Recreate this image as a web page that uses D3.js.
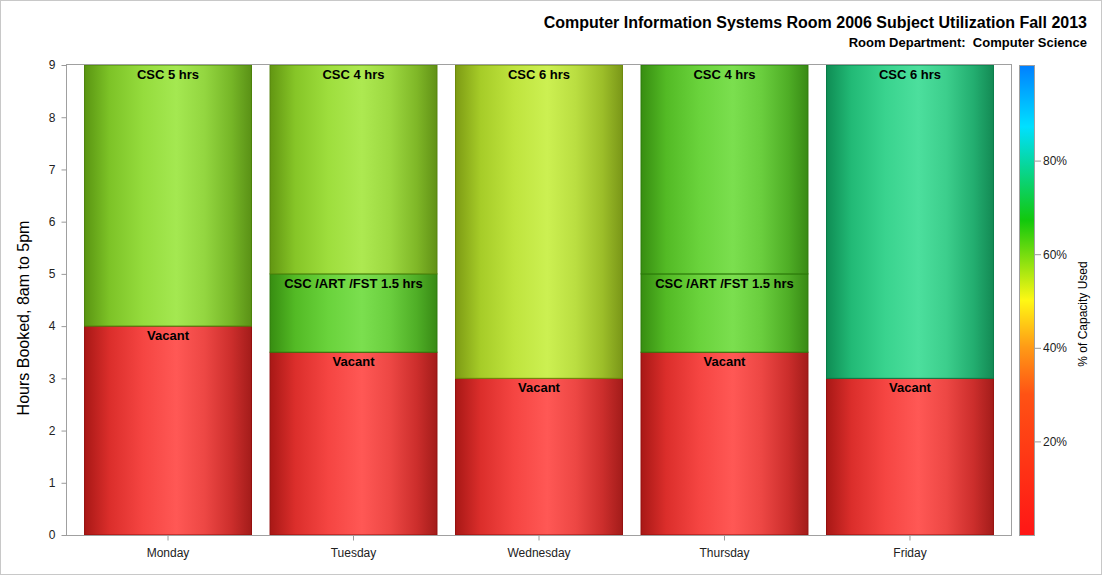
<!DOCTYPE html>
<html>
<head>
<meta charset="utf-8">
<title>Room 2006 Utilization</title>
<script src="https://d3js.org/d3.v7.min.js"></script>
<style>
  body { margin: 0; background: #fff; }
  svg text { font-family: "Liberation Sans", Arial, sans-serif; }
  .tick text { font-size: 12px; fill: #222; }
  .tick line { stroke: #9a9a9a; }
  .lbl { font-size: 13px; font-weight: bold; fill: #000; }
</style>
</head>
<body>
<svg width="1104" height="576"></svg>
<script>
// chart values
const days = ['Monday', 'Tuesday', 'Wednesday', 'Thursday', 'Friday'];
const vacantHours = [4, 3.5, 3, 3.5, 3];
const sharedHours = [0, 1.5, 0, 1.5, 0];
const cscHours = [5, 4, 6, 4, 6];
// % of capacity used
const vacantPct = [2, 2, 2, 2, 2];
const sharedPct = [0, 63, 0, 63, 0];
const cscPct = [59, 58, 55, 63, 76];
const yTicks = [0, 1, 2, 3, 4, 5, 6, 7, 8, 9];
const legendTicks = [20, 40, 60, 80];
const rampStops = [0, 30, 40, 50, 67, 87, 100];
const rampColors = ['#ff1616', '#ff5214', '#ff9a16', '#fff814', '#12c80c', '#00e0ff', '#0080ff'];

const svg = d3.select('svg');
const defs = svg.append('defs');

const x = d3.scaleBand().domain(days).range([66, 1012]).paddingInner(0.1).paddingOuter(0.1);
const y = d3.scaleLinear().domain([0, 9]).range([535, 65]);
const color = d3.scaleLinear().domain(rampStops).range(rampColors).interpolate(d3.interpolateRgb);

// outer border
svg.append('rect').attr('x', 0.5).attr('y', 0.5).attr('width', 1101).attr('height', 574)
  .attr('fill', '#fff').attr('stroke', '#c8c8c8');

// titles
svg.append('text').attr('x', 1087).attr('y', 28).attr('text-anchor', 'end')
  .style('font-size', '16px').style('font-weight', 'bold')
  .text('Computer Information Systems Room 2006 Subject Utilization Fall 2013');
svg.append('text').attr('x', 1087).attr('y', 47).attr('text-anchor', 'end')
  .style('font-size', '13px').style('font-weight', 'bold').attr('xml:space', 'preserve')
  .text('Room Department:  Computer Science');

// segments
const segs = [];
days.forEach((d, i) => {
  let base = 0;
  segs.push({day: d, y0: base, y1: base + vacantHours[i], pct: vacantPct[i], label: 'Vacant'});
  base += vacantHours[i];
  if (sharedHours[i] > 0) {
    segs.push({day: d, y0: base, y1: base + sharedHours[i], pct: sharedPct[i], label: 'CSC /ART /FST ' + sharedHours[i] + ' hrs'});
    base += sharedHours[i];
  }
  segs.push({day: d, y0: base, y1: base + cscHours[i], pct: cscPct[i], label: 'CSC ' + cscHours[i] + ' hrs'});
});

// lighten by w, then darken by b
function shade(c, w, b) { return d3.interpolateRgb(d3.interpolateRgb(c, '#fff')(w), '#000')(b); }

segs.forEach((s, i) => {
  const c = color(s.pct);
  s.grad = 'g' + i;
  const g = defs.append('linearGradient').attr('id', s.grad).attr('x1', 0).attr('x2', 1).attr('y1', 0).attr('y2', 0);
  [[0, 0.05, 0.34], [0.15, 0.12, 0.14], [0.35, 0.2, 0.04], [0.55, 0.27, 0], [0.72, 0.22, 0.07],
   [0.88, 0.14, 0.2], [1, 0.08, 0.36]].forEach(p => {
    g.append('stop').attr('offset', p[0]).attr('stop-color', shade(c, p[1], p[2]));
  });
  s.edge = shade(c, 0, 0.42);
});

const plot = svg.append('g');
plot.selectAll('rect.seg').data(segs).enter().append('rect').attr('class', 'seg')
  .attr('x', d => x(d.day))
  .attr('width', x.bandwidth())
  .attr('y', d => y(d.y1))
  .attr('height', d => y(d.y0) - y(d.y1))
  .attr('fill', d => 'url(#' + d.grad + ')')
  .attr('stroke', d => d.edge).attr('stroke-width', 1);

plot.selectAll('text.lbl').data(segs).enter().append('text').attr('class', 'lbl')
  .attr('x', d => x(d.day) + x.bandwidth() / 2)
  .attr('y', d => y(d.y1) + 14)
  .attr('text-anchor', 'middle')
  .text(d => d.label);

// frame
svg.append('rect').attr('x', 66.5).attr('y', 64.5).attr('width', 945).attr('height', 471)
  .attr('fill', 'none').attr('stroke', '#a0a0a0');

// axes
const yAxis = svg.append('g').attr('transform', 'translate(66.5,0)')
  .call(d3.axisLeft(y).tickValues(yTicks).tickSize(5).tickPadding(6));
yAxis.select('.domain').remove();
const xAxis = svg.append('g').attr('transform', 'translate(0,535.5)')
  .call(d3.axisBottom(x).tickSize(5).tickPadding(8));
xAxis.select('.domain').remove();

svg.append('text').attr('transform', 'translate(29,318) rotate(-90)').attr('text-anchor', 'middle')
  .style('font-size', '16px').text('Hours Booked, 8am to 5pm');

// colour legend
const ly = d3.scaleLinear().domain([0, 100]).range([535, 67]);
const lg = defs.append('linearGradient').attr('id', 'ramp').attr('x1', 0).attr('x2', 0).attr('y1', 1).attr('y2', 0);
rampStops.forEach((v, i) => lg.append('stop').attr('offset', v / 100).attr('stop-color', rampColors[i]));
svg.append('rect').attr('x', 1019.5).attr('y', 65.5).attr('width', 15).attr('height', 470)
  .attr('fill', 'url(#ramp)').attr('stroke', '#a0a0a0');
const lAxis = svg.append('g').attr('transform', 'translate(1035,0)')
  .call(d3.axisRight(ly).tickValues(legendTicks).tickFormat(d => d + '%').tickSize(6).tickPadding(2));
lAxis.select('.domain').remove();
svg.append('text').attr('transform', 'translate(1087,314) rotate(-90)').attr('text-anchor', 'middle')
  .style('font-size', '12px').text('% of Capacity Used');
</script>
</body>
</html>
